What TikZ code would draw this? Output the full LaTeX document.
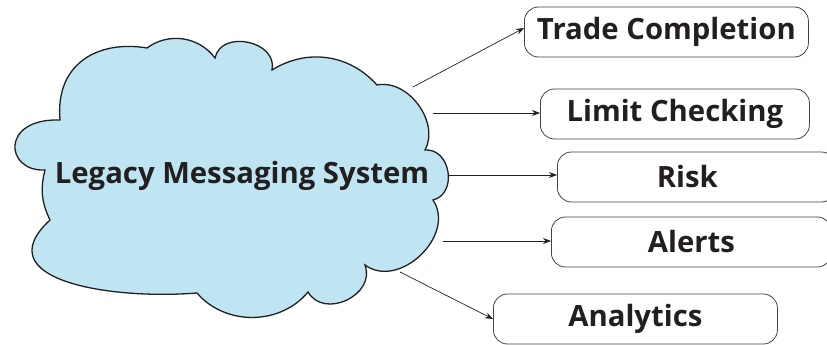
\documentclass[tikz,border=0pt]{standalone}
\usepackage{fontspec}
\setmainfont{Open Sans}
\usetikzlibrary{arrows.meta}
\definecolor{cloudblue}{RGB}{191,229,243}
\definecolor{ink}{RGB}{35,31,32}
\begin{document}
\begin{tikzpicture}[x=1pt,y=-1pt,
  lbl/.style={font=\fontsize{29.3}{34}\selectfont\bfseries, text=ink},
  box/.style={draw=ink!85, line width=0.8pt, rounded corners=14pt, minimum height=50pt, inner sep=0pt, anchor=west, lbl},
  conn/.style={draw=ink, line width=0.7pt, -{Stealth[length=8pt,width=6pt]}}]
\useasboundingbox (0,0) rectangle (827,345);
% cloud
\draw[fill=cloudblue, draw=ink, line width=1.3pt]
  (60,120) .. controls (55,62) and (100,40) .. (147,48)
  to[bend left=45] (215,58)
  to[bend left=90, looseness=1.3] (272,70)
  to[bend left=40] (377,85)
  to[bend left=65] (425,150)
  to[bend left=85, looseness=1.3] (433,200)
  to[bend left=80, looseness=1.15] (365,265)
  to[bend left=85, looseness=1.3] (308,292)
  to[bend left=50] (197,293)
  .. controls (110,300) and (-15,280) .. (50,220)
  to[bend left=20] (45,170)
  .. controls (5,172) and (0,118) .. cycle;
\node[lbl] (cloud) at (242,176) {Legacy Messaging System};
% boxes
\node[box, minimum width=284pt] (tc) at (524,32) {Trade Completion};
\node[box, minimum width=269pt] (lc) at (540,114) {Limit Checking};
\node[box, minimum width=278pt] (risk) at (557,177) {\hspace*{-18pt}Risk};
\node[box, minimum width=280pt] (al) at (551,242) {Alerts};
\node[box, minimum width=284pt] (an) at (493,319) {Analytics};
% connector start points on the cloud outline
\coordinate (s1) at (413,87);
\coordinate (s2) at (433,113);
\coordinate (s3) at (449,175);
\coordinate (s4) at (443,241);
\coordinate (s5) at (400,272);
\draw[conn] (s1) -- ([yshift=4pt]tc.west);
\draw[conn] (s2) -- (s2 -| lc.west);
\draw[conn] (s3) -- (s3 -| risk.west);
\draw[conn] (s4) -- (s4 -| al.west);
\draw[conn] (s5) -- (an.west);
\end{tikzpicture}
\end{document}
